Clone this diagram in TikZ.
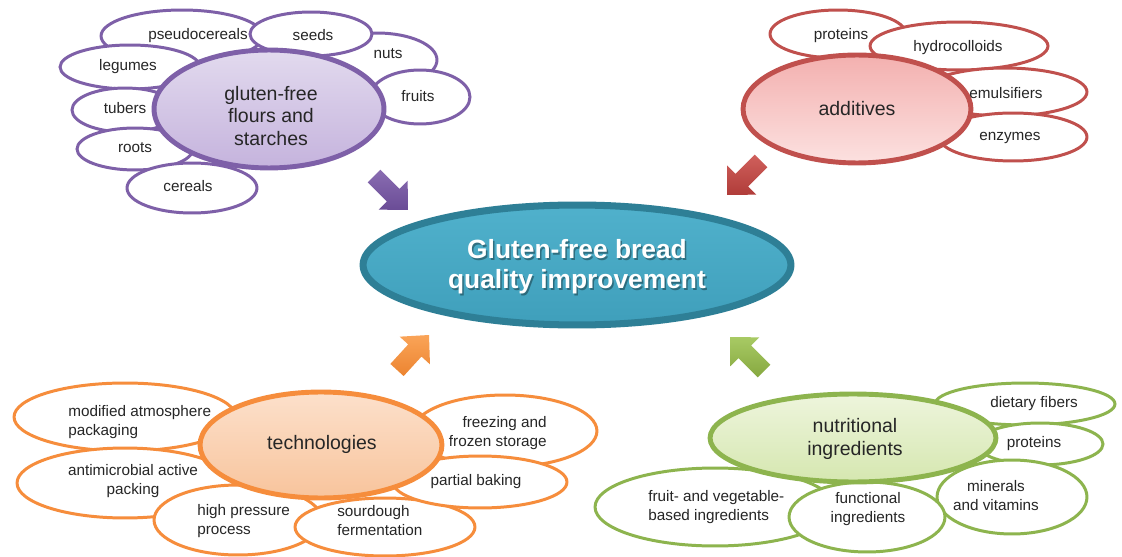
\documentclass[tikz,border=0pt]{standalone}
\usepackage{fontspec}
\setmainfont{Liberation Sans}
\usetikzlibrary{calc,shapes.geometric}

\definecolor{purpleline}{HTML}{7E60A8}
\definecolor{purplelight}{HTML}{E2DAEE}
\definecolor{purplemid}{HTML}{C5B3DD}
\definecolor{purplearrowA}{HTML}{8A6DB2}
\definecolor{purplearrowB}{HTML}{6A4C96}
\definecolor{redline}{HTML}{C0504D}
\definecolor{redlight}{HTML}{F3B0AF}
\definecolor{redpale}{HTML}{FCE1E0}
\definecolor{redarrowA}{HTML}{D0605C}
\definecolor{redarrowB}{HTML}{B03C39}
\definecolor{orangeline}{HTML}{F68D3C}
\definecolor{orangelight}{HTML}{FCE0CB}
\definecolor{orangemid}{HTML}{F8C49C}
\definecolor{orangearrowA}{HTML}{FAA458}
\definecolor{orangearrowB}{HTML}{EC8430}
\definecolor{greenline}{HTML}{8DB44E}
\definecolor{greenlight}{HTML}{EEF5DC}
\definecolor{greenmid}{HTML}{D5E7B0}
\definecolor{greenarrowA}{HTML}{A8CA64}
\definecolor{greenarrowB}{HTML}{86A840}
\definecolor{aquatop}{HTML}{50B1CC}
\definecolor{aquabottom}{HTML}{3F9FBB}
\definecolor{aqualine}{HTML}{2E7F96}
\definecolor{inkgray}{HTML}{262626}

\tikzset{
  ell/.style 2 args={ellipse, minimum width=#1*0.04cm, minimum height=#2*0.04cm,
    inner sep=0pt, outer sep=0pt},
  leaf/.style={draw=#1, line width=1.7pt, fill=white},
  hub/.style={draw=#1, line width=2.8pt},
  small/.style={font=\fontsize{8.7}{10.8}\selectfont, text=inkgray, inner sep=0pt},
  big/.style={font=\fontsize{11.1}{12.7}\selectfont, text=inkgray, align=center, inner sep=0pt},
  core/.style={font=\bfseries\fontsize{15}{17}\selectfont, align=center, inner sep=0pt},
}

% block arrow from a tail coordinate to a tip coordinate
\newcommand\blockarrow[3]{%
  \coordinate (#1-#2-b) at ($(#2)!0.42cm!(#1)$);
  \path[#3] ($(#1)!0.18cm!90:(#2)$) -- ($(#1-#2-b)!0.18cm!90:(#2)$)
    -- ($(#1-#2-b)!0.41cm!90:(#2)$) -- (#2)
    -- ($(#1-#2-b)!0.41cm!-90:(#2)$) -- ($(#1-#2-b)!0.18cm!-90:(#2)$)
    -- ($(#1)!0.18cm!-90:(#2)$) -- cycle;
}

\begin{document}
\begin{tikzpicture}[x=0.02cm, y=-0.02cm]
\fill[white] (0,0) rectangle (1122,557);
\useasboundingbox (0,0) rectangle (1122,557);

% ---------- flours and starches ----------
\node[leaf=purpleline, ell={81}{26}] (pseudo) at (182,36) {};
\node[leaf=purpleline, ell={60}{27}] (nuts) at (377,60) {};
\node[leaf=purpleline, ell={50}{27}] (fruits) at (420,97) {};
\node[leaf=purpleline, ell={61}{22}] (seeds) at (311,34) {};
\node[leaf=purpleline, ell={70}{22}] (legumes) at (130,67) {};
\node[leaf=purpleline, ell={53}{22}] (tubers) at (125,110) {};
\node[leaf=purpleline, ell={58}{21}] (roots) at (135,149) {};
\node[leaf=purpleline, ell={65}{25}] (cereals) at (192,188) {};
\node[hub=purpleline, top color=purplelight, bottom color=purplemid, ell={115}{59}] (flours) at (269,109) {};
\node[small] (t-pseudo) at (198,36) {pseudocereals};
\node[small] (t-seeds) at (313,35) {seeds};
\node[small] (t-nuts) at (388,54) {nuts};
\node[small] (t-fruits) at (418,96) {fruits};
\node[small] (t-legumes) at (128,67) {legumes};
\node[small] (t-tubers) at (125,108) {tubers};
\node[small] (t-roots) at (135,148) {roots};
\node[small] (t-cereals) at (188,186) {cereals};
\node[big] (t-flours) at (271,116) {gluten-free\\flours and\\starches};

% ---------- additives ----------
\node[leaf=redline, ell={68}{24}] (rprot) at (838,34) {};
\node[leaf=redline, ell={89}{24}] (hydro) at (959,46) {};
\node[leaf=redline, ell={82}{24}] (emuls) at (1005,92) {};
\node[leaf=redline, ell={74}{24}] (enzym) at (1013,137) {};
\node[hub=redline, top color=redlight, bottom color=redpale, ell={114}{54}] (addit) at (857,109) {};
\node[small] (t-rprot) at (841,36) {proteins};
\node[small] (t-hydro) at (958,48) {hydrocolloids};
\node[small] (t-emuls) at (1006,93) {emulsifiers};
\node[small] (t-enzym) at (1010,138) {enzymes};
\node[big] (t-addit) at (857,109) {additives};

% ---------- technologies ----------
\node[leaf=orangeline, ell={111}{34}] (modif) at (125,417) {};
\node[leaf=orangeline, ell={108}{35}] (antim) at (125,483) {};
\node[leaf=orangeline, ell={84}{35}] (hpp) at (238,520) {};
\node[leaf=orangeline, ell={90}{29}] (sour) at (385,527) {};
\node[leaf=orangeline, ell={92}{36}] (freez) at (505,431) {};
\node[leaf=orangeline, ell={87}{26}] (part) at (480,482) {};
\node[hub=orangeline, top color=orangelight, bottom color=orangemid, ell={121}{53}] (techn) at (321,445) {};
\node[small, anchor=west, align=left] (t-modif) at (68,422) {modified atmosphere\\packaging};
\node[small, align=center] (t-antim) at (133,481) {antimicrobial active\\packing};
\node[small, anchor=west, align=left] (t-hpp) at (197,521) {high pressure\\process};
\node[small, anchor=west, align=left] (t-sour) at (337,521) {sourdough\\fermentation};
\node[small, anchor=east, align=right] (t-freez) at (547,433) {freezing and\\frozen storage};
\node[small] (t-part) at (476,482) {partial baking};
\node[big] (t-techn) at (322,444) {technologies};

% ---------- nutritional ingredients ----------
\node[leaf=greenline, ell={90}{21}] (fiber) at (1025,404) {};
\node[leaf=greenline, ell={63}{21}] (gprot) at (1040,444) {};
\node[leaf=greenline, ell={75}{37}] (miner) at (1012,497) {};
\node[leaf=greenline, ell={120}{39}] (fruitveg) at (715,507) {};
\node[leaf=greenline, ell={78}{35}] (funct) at (867,517) {};
\node[hub=greenline, top color=greenlight, bottom color=greenmid, ell={143}{44}] (nutri) at (853,438) {};
\node[small] (t-fiber) at (1034,404) {dietary fibers};
\node[small] (t-gprot) at (1034,444) {proteins};
\node[small, align=center] (t-miner) at (996,496) {minerals\\and vitamins};
\node[small, anchor=west, align=left] (t-fruitveg) at (648,507) {fruit- and vegetable-\\based ingredients};
\node[small, align=center] (t-funct) at (868,509) {functional\\ingredients};
\node[big] (t-nutri) at (855,439) {nutritional\\ingredients};

% ---------- central goal ----------
\node[draw=aqualine, line width=4pt, top color=aquatop, bottom color=aquabottom, ell={214}{60}] (goal) at (577,265) {};
\node[core, text=black, opacity=0.35] (goal-shadow) at (578.5,268.5) {Gluten-free bread\\quality improvement};
\node[core, text=white] (goal-text) at (577,267) {Gluten-free bread\\quality improvement};

% ---------- arrows towards the goal ----------
\coordinate (pa-tail) at (374,176);
\coordinate (pa-tip) at (408,210);
\coordinate (ra-tail) at (761,161);
\coordinate (ra-tip) at (727,195);
\coordinate (oa-tail) at (397,370);
\coordinate (oa-tip) at (429,335);
\coordinate (ga-tail) at (764,371);
\coordinate (ga-tip) at (730,337);
\blockarrow{pa-tail}{pa-tip}{top color=purplearrowA, bottom color=purplearrowB}
\blockarrow{ra-tail}{ra-tip}{top color=redarrowA, bottom color=redarrowB}
\blockarrow{oa-tail}{oa-tip}{top color=orangearrowA, bottom color=orangearrowB}
\blockarrow{ga-tail}{ga-tip}{top color=greenarrowA, bottom color=greenarrowB}
\end{tikzpicture}
\end{document}
